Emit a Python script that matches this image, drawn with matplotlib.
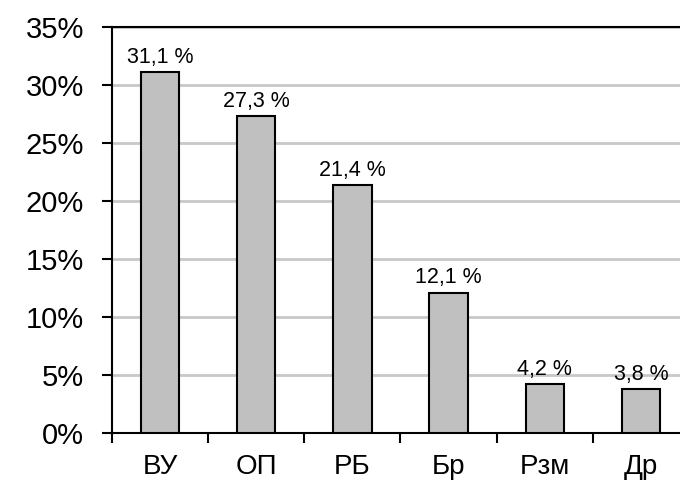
import matplotlib
matplotlib.use("Agg")
import matplotlib.pyplot as plt
from matplotlib.ticker import FuncFormatter, MultipleLocator

categories = ["ВУ", "ОП", "РБ", "Бр", "Рзм", "Др"]
values = [31.1, 27.3, 21.4, 12.1, 4.2, 3.8]

plt.rcParams['font.family'] = ['Liberation Sans', 'DejaVu Sans']

fig = plt.figure(figsize=(6.8, 4.83), dpi=100)
ax = fig.add_axes([112/680, 50/483, 577/680, 406/483])

x = list(range(len(categories)))
ax.bar(x, values, width=0.4, color="#C0C0C0", edgecolor="black", linewidth=1.5, zorder=3)

for xi, v in zip(x, values):
    ax.annotate(f"{v:.1f}".replace(".", ",") + " %", (xi, v), xytext=(0, 3),
                textcoords="offset points", ha="center", va="bottom", fontsize=15.5, zorder=4)

ax.set_xlim(-0.5, len(categories) - 0.5)
ax.set_ylim(0, 35)
ax.yaxis.set_major_locator(MultipleLocator(5))
ax.yaxis.set_major_formatter(FuncFormatter(lambda v, p: f"{int(round(v))}%"))
ax.yaxis.grid(True, color="#C8C8C8", linewidth=2, zorder=0)
ax.set_axisbelow(True)

ax.set_xticks(x)
ax.set_xticklabels(categories, fontsize=20)
ax.set_xticks([i - 0.5 for i in range(len(categories) + 1)], minor=True)
ax.tick_params(axis="x", which="major", length=0, pad=15)
ax.tick_params(axis="x", which="minor", length=7, width=1.5, direction="out")
ax.tick_params(axis="y", length=7, width=1.5, direction="out", labelsize=21, pad=13)

for s in ["left", "bottom", "top"]:
    ax.spines[s].set_linewidth(1.5)
    ax.spines[s].set_color("black")
ax.spines["right"].set_visible(False)

fig.savefig("out.png", dpi=100)
